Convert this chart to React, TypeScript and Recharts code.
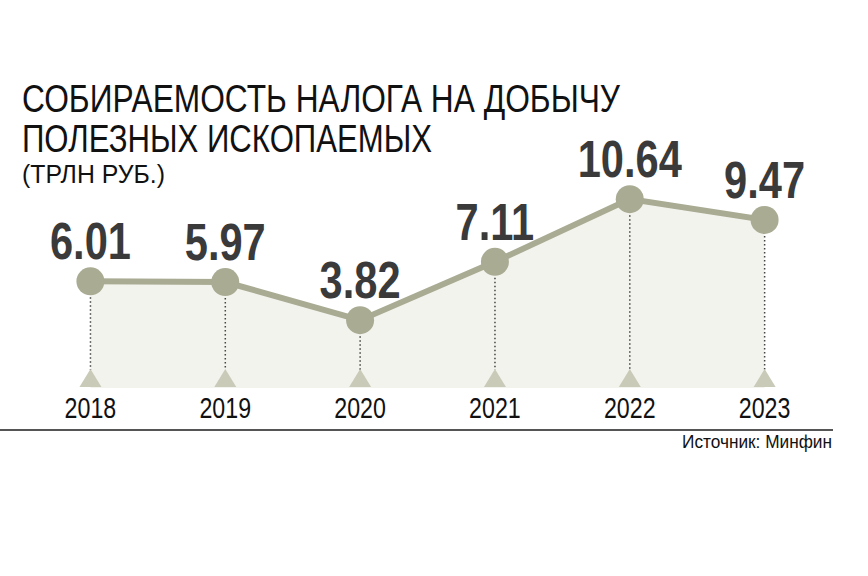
import { Area, Bar, ComposedChart, LabelList, Line, XAxis, YAxis } from 'recharts';

const years = ['2018', '2019', '2020', '2021', '2022', '2023'];
const values = [6.01, 5.97, 3.82, 7.11, 10.64, 9.47];

const title1 = 'СОБИРАЕМОСТЬ НАЛОГА НА ДОБЫЧУ';
const title2 = 'ПОЛЕЗНЫХ ИСКОПАЕМЫХ';
const unit = '(ТРЛН РУБ.)';
const source = 'Источник: Минфин';

const data = years.map((year, i) => ({ year, value: values[i] }));

// no narrow font installed, so squeeze Liberation Sans horizontally
const FONT = '"Liberation Sans", Arial, sans-serif';
const SQUEEZE = 0.8;
const LINE = '#a9ab93';

function Stem(props: any) {
    const { x, y, width, height } = props;
    const cx = x + width / 2;
    const bottom = y + height;
    return (
        <g>
            <line x1={cx} y1={y + 16} x2={cx} y2={bottom - 18} stroke="#444" strokeWidth={1.5} strokeDasharray="1.5 2.5" />
            <polygon points={`${cx - 11},${bottom - 1} ${cx + 11},${bottom - 1} ${cx},${bottom - 19}`} fill="#c9cab8" />
        </g>
    );
}

function ValueLabel(props: any) {
    const { x, y, value } = props;
    return (
        <text
            transform={`translate(${x},${y - 22}) scale(${SQUEEZE},1)`}
            textAnchor="middle"
            fontFamily={FONT}
            fontWeight="bold"
            fontSize={52}
            fill="#3a3a3a"
        >
            {Number(value).toFixed(2)}
        </text>
    );
}

function YearTick(props: any) {
    const { x, payload } = props;
    return (
        <text transform={`translate(${x},418) scale(${SQUEEZE},1)`} textAnchor="middle" fontFamily={FONT} fontSize={29} fill="#111">
            {payload.value}
        </text>
    );
}

export default function App() {
    return (
        <div style={{ position: 'absolute', left: 0, top: 0, width: 868, height: 576, background: '#fff' }}>
            <ComposedChart
                width={868}
                height={576}
                data={data}
                margin={{ top: 175, right: 36, bottom: 148, left: 23 }}
                barCategoryGap="20%"
            >
                <XAxis dataKey="year" axisLine={false} tickLine={false} height={40} tick={YearTick} />
                <YAxis hide domain={[0, 12]} />
                <Area type="linear" dataKey="value" stroke="none" fill="#f3f3ed" fillOpacity={1} isAnimationActive={false} />
                <Bar dataKey="value" shape={Stem} isAnimationActive={false} />
                <Line
                    type="linear"
                    dataKey="value"
                    stroke={LINE}
                    strokeWidth={6}
                    dot={{ r: 14, fill: LINE, stroke: 'none' }}
                    activeDot={false}
                    isAnimationActive={false}
                >
                    <LabelList dataKey="value" content={ValueLabel} />
                </Line>
            </ComposedChart>
            <svg width={868} height={576} style={{ position: 'absolute', left: 0, top: 0, pointerEvents: 'none' }}>
                <g fontFamily={FONT} fill="#111">
                    <text x={22} y={112} fontSize={38} textLength={598} lengthAdjust="spacingAndGlyphs">{title1}</text>
                    <text x={22} y={152} fontSize={38} textLength={410} lengthAdjust="spacingAndGlyphs">{title2}</text>
                    <text x={22} y={183} fontSize={25} textLength={143} lengthAdjust="spacingAndGlyphs">{unit}</text>
                    <line x1={0} y1={430} x2={833} y2={430} stroke="#555" strokeWidth={2} />
                    <text x={682} y={448} fontSize={18} textLength={150} lengthAdjust="spacingAndGlyphs">{source}</text>
                </g>
            </svg>
        </div>
    );
}
